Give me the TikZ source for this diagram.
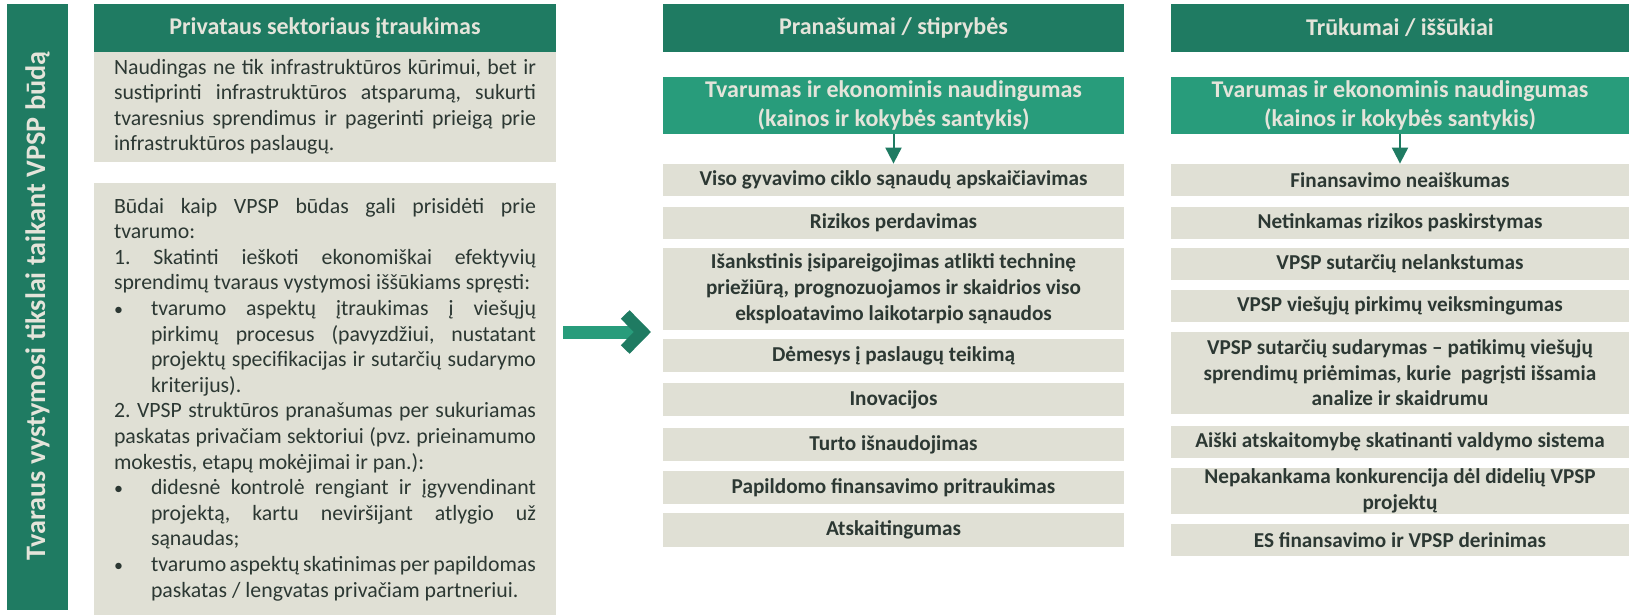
\documentclass[tikz,border=0pt]{standalone}
\usepackage{fontspec}
\setmainfont{Carlito}
\usetikzlibrary{arrows.meta,positioning}
\definecolor{paletteDark}{HTML}{1F7B62}
\definecolor{paletteMint}{HTML}{289C7B}
\definecolor{paletteStone}{HTML}{E0E0D5}
\definecolor{paletteInk}{HTML}{2C3833}
\definecolor{paletteCream}{HTML}{E4E4DA}
\newcommand{\bul}{\par\hangindent=18.5pt\hangafter=1\noindent\makebox[18.5pt][l]{\fontsize{9}{9}\selectfont\textbullet}}

\begin{document}
\begin{tikzpicture}[
  x=0.5pt, y=-0.5pt,
  font=\fontsize{10.9}{12.75}\selectfont,
  sidebar/.style={fill=paletteDark, minimum width=30.5pt, minimum height=303pt, inner sep=0pt},
  sidetext/.style={font=\fontsize{14.1}{16}\selectfont\bfseries, text=paletteCream, inner sep=0pt},
  colhead/.style={fill=paletteDark, text=paletteCream, font=\fontsize{12}{14}\selectfont\bfseries, minimum height=24pt, inner sep=0pt},
  subhead/.style={fill=paletteMint, text=paletteCream, font=\fontsize{12}{14.2}\selectfont\bfseries, minimum height=28.5pt, align=center, inner sep=0pt},
  bodybox/.style={fill=paletteStone, text=paletteInk, text width=211pt, inner xsep=10pt, inner ysep=0pt, align=justify},
  item/.style={fill=paletteStone, text=paletteInk, font=\fontsize{10.6}{12.8}\selectfont\bfseries, align=center, inner sep=0pt, minimum height=16pt},
  adv/.style={item, minimum width=230.5pt},
  risk/.style={item, minimum width=229pt},
  flow/.style={-{Triangle[width=8pt,length=8pt]}, line width=1pt, draw=paletteDark},
  shaft/.style={line width=6.5pt, draw=paletteMint},
  chevron/.style={line width=6.1pt, draw=paletteDark, line join=miter}
]
\useasboundingbox (0,0) rectangle (1629,615);
\frenchspacing\hyphenpenalty=10000\exhyphenpenalty=10000

% left side
\node[sidebar] (bar) at (37.5,307) {};
\node[sidetext, rotate=90] (barlabel) at (37.5,306) {Tvaraus vystymosi tikslai taikant VPSP būdą};

\node[colhead, minimum width=231pt] (privhead) at (325,28) {Privataus sektoriaus įtraukimas};
\node[bodybox, minimum height=55pt] (benefit) at (325,107)
  {\parindent=0pt\baselineskip=12.7pt
   Naudingas ne tik infrastruktūros kūrimui, bet ir\linebreak
   sustiprinti infrastruktūros atsparumą, sukurti\linebreak
   tvaresnius sprendimus ir pagerinti prieigą prie\linebreak
   infrastruktūros paslaugų.\par};
\node[bodybox, minimum height=216pt] (ways) at (325,399.5)
  {\parindent=0pt\baselineskip=12.8pt
   Būdai kaip VPSP būdas gali prisidėti prie\linebreak tvarumo:\par
   1. Skatinti ieškoti ekonomiškai efektyvių\linebreak
   sprendimų tvaraus vystymosi iššūkiams spręsti:
   \bul tvarumo aspektų įtraukimas į viešųjų\linebreak
   pirkimų procesus (pavyzdžiui, nustatant\linebreak
   projektų specifikacijas ir sutarčių sudarymo\linebreak
   kriterijus).\par
   2. VPSP struktūros pranašumas per sukuriamas\linebreak
   paskatas privačiam sektoriui (pvz. prieinamumo\linebreak
   mokestis, etapų mokėjimai ir pan.):
   \bul didesnė kontrolė rengiant ir įgyvendinant\linebreak
   projektą, kartu neviršijant atlygio už\linebreak
   sąnaudas;
   \bul tvarumo aspektų skatinimas per papildomas\linebreak
   paskatas / lengvatas privačiam partneriui.\par};

% big arrow
\coordinate (shaftstart) at (563,332.5);
\coordinate (shaftend) at (634,332.5);
\coordinate (chevup) at (625.2,314.5);
\coordinate (chevtip) at (642.4,332);
\coordinate (chevdown) at (625.2,349.5);
\draw[shaft] (shaftstart) -- (shaftend);
\draw[chevron] (chevup) -- (chevtip) -- (chevdown);

% strengths
\node[colhead, minimum width=230.5pt] (advhead) at (893.5,28) {Pranašumai / stiprybės};
\node[subhead, minimum width=230.5pt] (advsub) at (893.5,105.5)
  {Tvarumas ir ekonominis naudingumas\\(kainos ir kokybės santykis)};
\node[adv] (lifecycle) at (893.5,180) {Viso gyvavimo ciklo sąnaudų apskaičiavimas};
\node[adv] (transfer) at (893.5,223) {Rizikos perdavimas};
\node[adv, minimum height=41pt, font=\fontsize{10.6}{13.1}\selectfont\bfseries] (upfront) at (893.5,289)
  {Išankstinis įsipareigojimas atlikti techninę\\
   priežiūrą, prognozuojamos ir skaidrios viso\\
   eksploatavimo laikotarpio sąnaudos};
\node[adv, minimum height=16.5pt] (service) at (893.5,355.5) {Dėmesys į paslaugų teikimą};
\node[adv, minimum height=16.5pt] (innov) at (893.5,399.5) {Inovacijos};
\node[adv, minimum height=16.5pt] (assets) at (893.5,444.5) {Turto išnaudojimas};
\node[adv, minimum height=16.5pt] (funding) at (893.5,487.5) {Papildomo finansavimo pritraukimas};
\node[adv, minimum height=17pt] (account) at (893.5,530) {Atskaitingumas};
\draw[flow] (advsub.south) -- (lifecycle.north);

% weaknesses
\node[colhead, minimum width=229pt] (riskhead) at (1400,28) {Trūkumai / iššūkiai};
\node[subhead, minimum width=229pt] (risksub) at (1400,105.5)
  {Tvarumas ir ekonominis naudingumas\\(kainos ir kokybės santykis)};
\node[risk] (unclear) at (1400,180) {Finansavimo neaiškumas};
\node[risk] (alloc) at (1400,223) {Netinkamas rizikos paskirstymas};
\node[risk] (rigid) at (1400,264) {VPSP sutarčių nelankstumas};
\node[risk] (procure) at (1400,306) {VPSP viešųjų pirkimų veiksmingumas};
\node[risk, minimum height=41pt] (contract) at (1400,373)
  {VPSP sutarčių sudarymas – patikimų viešųjų\\
   sprendimų priėmimas, kurie \ pagrįsti išsamia\\
   analize ir skaidrumu};
\node[risk] (govern) at (1400,442) {Aiški atskaitomybę skatinanti valdymo sistema};
\node[risk, minimum height=23pt] (compet) at (1400,491)
  {Nepakankama konkurencija dėl didelių VPSP\\projektų};
\node[risk] (eufund) at (1400,540) {ES finansavimo ir VPSP derinimas};
\draw[flow] (risksub.south) -- (unclear.north);
\end{tikzpicture}
\end{document}
